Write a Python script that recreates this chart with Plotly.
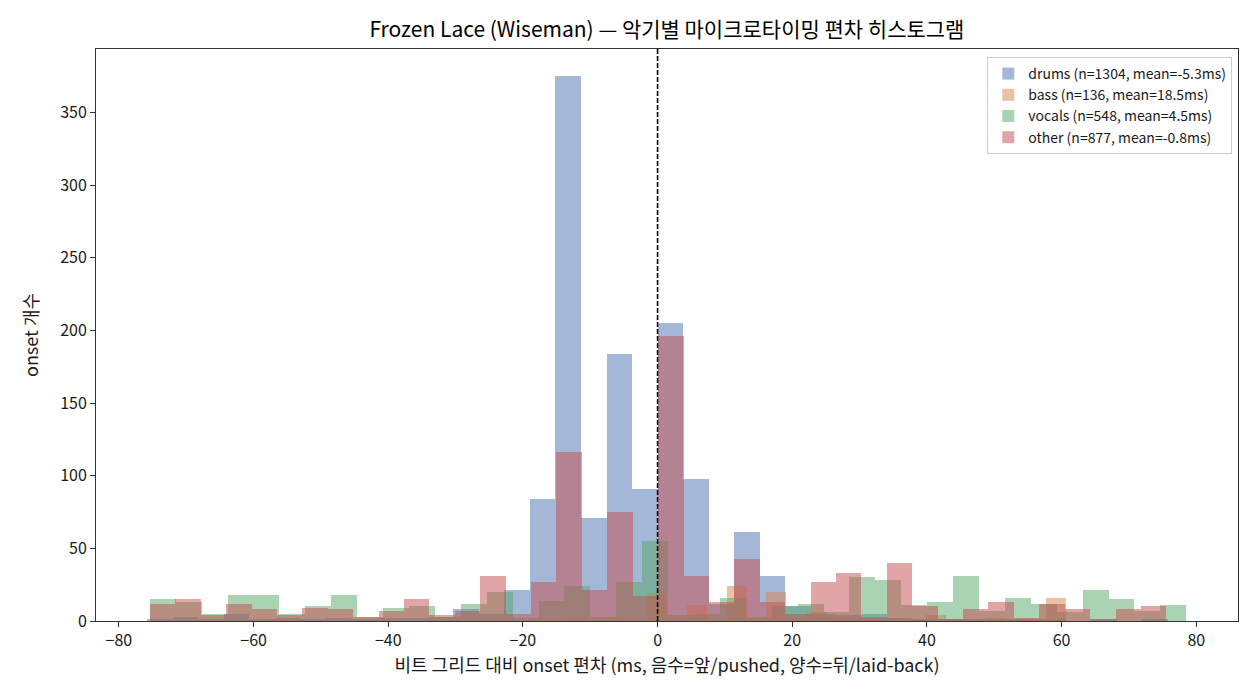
import numpy as np
import plotly.graph_objects as go

# per-instrument histogram: first bin edge (ms), bin width (ms), counts (40 bins each)
drums_start, drums_width = -75.8, 3.79
drums_counts = [1, 3, 1, 5, 1, 2, 1, 2, 1, 2, 2, 3, 8, 5, 21, 84, 375, 71, 184, 91,
                205, 98, 12, 61, 31, 10, 5, 4, 5, 2, 1, 1, 1, 1, 1, 1, 0, 1, 0, 1]

bass_start, bass_width = -57.9, 2.963
bass_counts = [1, 0, 0, 0, 0, 0, 0, 0, 0, 0, 1, 1, 0, 1, 1, 2, 1, 3, 1, 19,
               3, 11, 1, 24, 2, 20, 2, 6, 3, 2, 1, 2, 1, 4, 1, 1, 2, 1, 1, 16]

vocals_start, vocals_width = -75.4, 3.848
vocals_counts = [15, 13, 5, 18, 18, 5, 10, 18, 3, 9, 10, 3, 12, 20, 2, 14, 24, 3, 27, 55,
                 4, 5, 16, 3, 10, 12, 6, 30, 28, 11, 13, 31, 7, 16, 12, 6, 21, 15, 7, 11]

other_start, other_width = -75.4, 3.774
other_counts = [12, 15, 4, 12, 8, 4, 9, 8, 3, 7, 15, 4, 7, 31, 5, 27, 116, 21, 75, 17,
                196, 31, 13, 43, 13, 5, 27, 33, 3, 40, 10, 1, 8, 13, 2, 12, 8, 1, 8, 10]

series = [
    ("drums (n=1304, mean=-5.3ms)", drums_start, drums_width, drums_counts, "#4C72B0"),
    ("bass (n=136, mean=18.5ms)", bass_start, bass_width, bass_counts, "#DD8452"),
    ("vocals (n=548, mean=4.5ms)", vocals_start, vocals_width, vocals_counts, "#55A868"),
    ("other (n=877, mean=-0.8ms)", other_start, other_width, other_counts, "#C44E52"),
]

FONT = "Noto Sans CJK KR"

fig = go.Figure()
for name, start, width, counts, color in series:
    centers = start + width * (np.arange(len(counts)) + 0.5)
    fig.add_trace(go.Bar(
        x=centers, y=counts, width=width, name=name,
        marker=dict(color=color, line=dict(width=0)), opacity=0.5,
    ))

fig.add_vline(x=0, line=dict(color="black", width=1.6, dash="5px,2px"))

# page has an 8px body margin, so the figure is a bit smaller than the window
fig.update_layout(
    width=1244, height=684,
    barmode="overlay", bargap=0,
    plot_bgcolor="white", paper_bgcolor="white",
    margin=dict(l=88, r=14, t=41, b=71),
    font=dict(family=FONT, size=16, color="#1a1a1a"),
    title=dict(text="Frozen Lace (Wiseman) — 악기별 마이크로타이밍 편차 히스토그램",
               x=0.5297, xanchor="center", y=0.968, yanchor="middle",
               font=dict(size=21, family=FONT, color="black")),
    legend=dict(x=0.995, y=0.986, xanchor="right", yanchor="top",
                bgcolor="rgba(255,255,255,0.8)", bordercolor="#cccccc", borderwidth=1,
                font=dict(size=14, family=FONT), itemwidth=30),
    showlegend=True,
)

fig.update_xaxes(
    range=[-83.4, 86.2], tickmode="array", tickvals=[-80, -60, -40, -20, 0, 20, 40, 60, 80],
    ticks="outside", ticklen=5, tickcolor="#333", showline=True, linecolor="#333",
    linewidth=1, mirror=True, showgrid=False, zeroline=False,
    title=dict(text="비트 그리드 대비 onset 편차 (ms, 음수=앞/pushed, 양수=뒤/laid-back)",
               font=dict(size=18), standoff=5),
    tickfont=dict(size=16),
)
fig.update_yaxes(
    range=[0, 393.75], tickmode="array", tickvals=[0, 50, 100, 150, 200, 250, 300, 350],
    ticks="outside", ticklen=5, tickcolor="#333", showline=True, linecolor="#333",
    linewidth=1, mirror=True, showgrid=False, zeroline=False,
    title=dict(text="onset 개수", font=dict(size=18), standoff=16),
    tickfont=dict(size=16),
)

fig.write_html("out.html")
